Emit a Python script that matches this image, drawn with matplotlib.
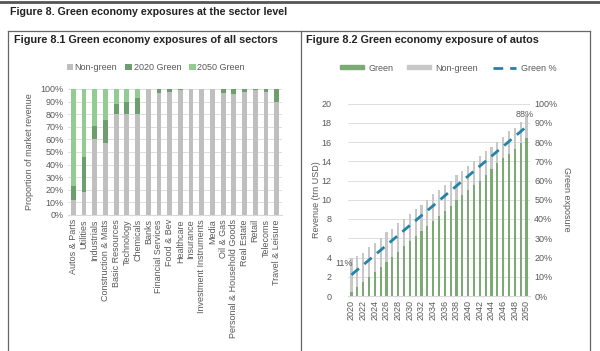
import matplotlib
matplotlib.use("Agg")
import matplotlib.pyplot as plt
import numpy as np
from matplotlib.lines import Line2D

plt.rcParams['font.family'] = ['Liberation Sans', 'DejaVu Sans']

# ---- data: Figure 8.1 ----
sectors = ['Autos & Parts', 'Utilities', 'Industrials', 'Construction & Mats',
           'Basic Resources', 'Technology', 'Chemicals', 'Banks',
           'Financial Services', 'Food & Bev', 'Healthcare', 'Insurance',
           'Investment Instruments', 'Media', 'Oil & Gas',
           'Personal & Household Goods', 'Real Estate', 'Retail',
           'Telecoms', 'Travel & Leisure']
non_green = [12, 18, 60, 57, 80, 80, 80, 100, 97, 98, 99, 100, 100, 100, 97, 96, 98, 99, 98, 90]
green_2020 = [11, 28, 11, 18, 8, 10, 13, 0, 3, 2, 1, 0, 0, 0, 3, 4, 2, 1, 2, 10]
green_2050 = [77, 54, 29, 25, 12, 10, 7, 0, 0, 0, 0, 0, 0, 0, 0, 0, 0, 0, 0, 0]

# ---- data: Figure 8.2 ----
years = list(range(2020, 2051))
total_rev = [4.0, 4.2, 4.5, 5.05, 5.5, 6.05, 6.6, 7.0, 7.55, 8.05, 8.5, 9.0, 9.5, 10.0,
             10.6, 11.0, 11.5, 12.0, 12.6, 13.0, 13.5, 14.05, 14.5, 15.1, 15.5, 16.0,
             16.5, 17.1, 17.5, 18.1, 18.8]
green_rev = [0.45, 0.9, 1.5, 1.95, 2.5, 3.05, 3.55, 4.1, 4.6, 5.2, 5.7, 6.25, 6.8, 7.3,
             7.8, 8.35, 8.85, 9.4, 9.95, 10.5, 11.0, 11.5, 12.0, 12.6, 13.2, 13.8,
             14.3, 14.8, 15.3, 15.9, 16.4]
green_pct = [11, 13.6, 16.1, 18.7, 21.3, 23.8, 26.4, 29.0, 31.5, 34.1, 36.7, 39.2, 41.8,
             44.4, 46.9, 49.5, 52.1, 54.6, 57.2, 59.8, 62.3, 64.9, 67.5, 70.0, 72.6,
             75.2, 77.7, 80.3, 82.9, 85.4, 88.0]

W, H = 600, 351
fig = plt.figure(figsize=(6, 3.51), dpi=100)

def rect(x0, y0, x1, y1):
    # pixel box (top-left origin) -> figure fraction
    return [x0 / W, 1 - y1 / H, (x1 - x0) / W, (y1 - y0) / H]

# frame / headers
frame = fig.add_axes([0, 0, 1, 1])
frame.set_xlim(0, W)
frame.set_ylim(H, 0)
frame.axis('off')
frame.plot([0, W], [1.5, 1.5], color='#555555', lw=2)
frame.plot([8, 590], [31, 31], color='#666666', lw=0.9)
for xv in [8, 300.5, 590]:
    frame.plot([xv, xv], [31, H], color='#666666', lw=0.9)
frame.text(10, 12, 'Figure 8. Green economy exposures at the sector level',
           fontsize=7.7, fontweight='bold', va='center', color='#222222')
frame.text(14, 40, 'Figure 8.1 Green economy exposures of all sectors',
           fontsize=7.8, fontweight='bold', va='center', color='#222222')
frame.text(306, 40, 'Figure 8.2 Green economy exposure of autos',
           fontsize=7.8, fontweight='bold', va='center', color='#222222')

tick_col = '#595959'
grid_col = '#D9D9D9'

# ---- left chart ----
ax1 = fig.add_axes(rect(68, 89, 282, 215))
x = np.arange(len(sectors))
c_ng, c_20, c_50 = '#BFBFBF', '#6E9E6E', '#92CC92'
ax1.bar(x, non_green, width=0.45, color=c_ng, label='Non-green', zorder=2)
ax1.bar(x, green_2020, width=0.45, bottom=non_green, color=c_20, label='2020 Green', zorder=2)
bottom2 = [a + b for a, b in zip(non_green, green_2020)]
ax1.bar(x, green_2050, width=0.45, bottom=bottom2, color=c_50, label='2050 Green', zorder=2)
ax1.set_xlim(-0.5, len(sectors) - 0.5)
ax1.set_ylim(0, 100)
ax1.set_yticks(range(0, 101, 10))
ax1.set_yticklabels([f'{v}%' for v in range(0, 101, 10)])
ax1.set_xticks(x)
ax1.set_xticklabels(sectors, rotation=90)
ax1.tick_params(length=0, labelsize=6.5, colors=tick_col, pad=3)
ax1.grid(axis='y', color=grid_col, lw=0.6, zorder=0)
for s in ['top', 'right', 'left']:
    ax1.spines[s].set_visible(False)
ax1.spines['bottom'].set_color(grid_col)
ax1.set_ylabel('Proportion of market revenue', fontsize=6.5, color=tick_col, labelpad=5)
ax1.legend(loc='center', bbox_to_anchor=(0.41, 1.167), ncol=3, frameon=False,
           fontsize=6.5, handlelength=0.7, handleheight=0.7, handletextpad=0.2,
           columnspacing=0.9, labelcolor=tick_col)

# ---- right chart ----
ax2 = fig.add_axes(rect(348, 103.5, 530, 296))
xi = np.arange(len(years))
non_green_rev = [t - g for t, g in zip(total_rev, green_rev)]
ax2.bar(xi, green_rev, width=0.35, color='#7BAA74', zorder=2)
ax2.bar(xi, non_green_rev, width=0.35, bottom=green_rev, color='#C8C8C8', zorder=2)
ax2.set_xlim(-0.6, len(years) - 0.4)
ax2.set_ylim(0, 20)
ax2.set_yticks(range(0, 21, 2))
ax2.set_xticks(xi[::2])
ax2.set_xticklabels([str(y) for y in years[::2]], rotation=90)
ax2.tick_params(length=0, labelsize=6.5, colors=tick_col, pad=3)
ax2.tick_params(axis='y', pad=12)
ax2.grid(axis='y', color=grid_col, lw=0.6, zorder=0)
for s in ax2.spines.values():
    s.set_visible(False)
ax2.spines['bottom'].set_visible(True)
ax2.spines['bottom'].set_color(grid_col)
ax2.set_ylabel('Revenue (trn USD)', fontsize=6.5, color=tick_col, labelpad=0)

ax3 = ax2.twinx()
line_col = '#2283A8'
ax3.plot(xi, green_pct, color=line_col, lw=2, dashes=(3.5, 2.5))
ax3.set_ylim(0, 100)
ax3.set_yticks(range(0, 101, 10))
ax3.set_yticklabels([f'{v}%' for v in range(0, 101, 10)])
ax3.tick_params(length=0, labelsize=6.5, colors=tick_col, pad=3)
for s in ax3.spines.values():
    s.set_visible(False)
ax3.set_ylabel('Green exposure', fontsize=6.5, color=tick_col, rotation=270, labelpad=10)
ax3.annotate(f'{green_pct[0]:.0f}%', (xi[0], green_pct[0]), xytext=(-5, 6),
             textcoords='offset points', fontsize=6.5, color=tick_col, ha='center')
ax3.annotate(f'{green_pct[-1]:.0f}%', (xi[-1], green_pct[-1]), xytext=(-1, 7),
             textcoords='offset points', fontsize=6.5, color=tick_col, ha='center')

handles = [plt.Rectangle((0, 0), 1, 1, color='#7BAA74'),
           plt.Rectangle((0, 0), 1, 1, color='#C8C8C8'),
           Line2D([0], [0], color=line_col, lw=2, dashes=(3.5, 2.5))]
ax2.legend(handles, ['Green', 'Non-green', 'Green %'], loc='center',
           bbox_to_anchor=(0.55, 1.184), ncol=3, frameon=False, fontsize=6.5,
           handlelength=2.6, handleheight=0.35, handletextpad=0.5, columnspacing=1.6,
           labelcolor=tick_col)

fig.savefig('out.png', dpi=100)
